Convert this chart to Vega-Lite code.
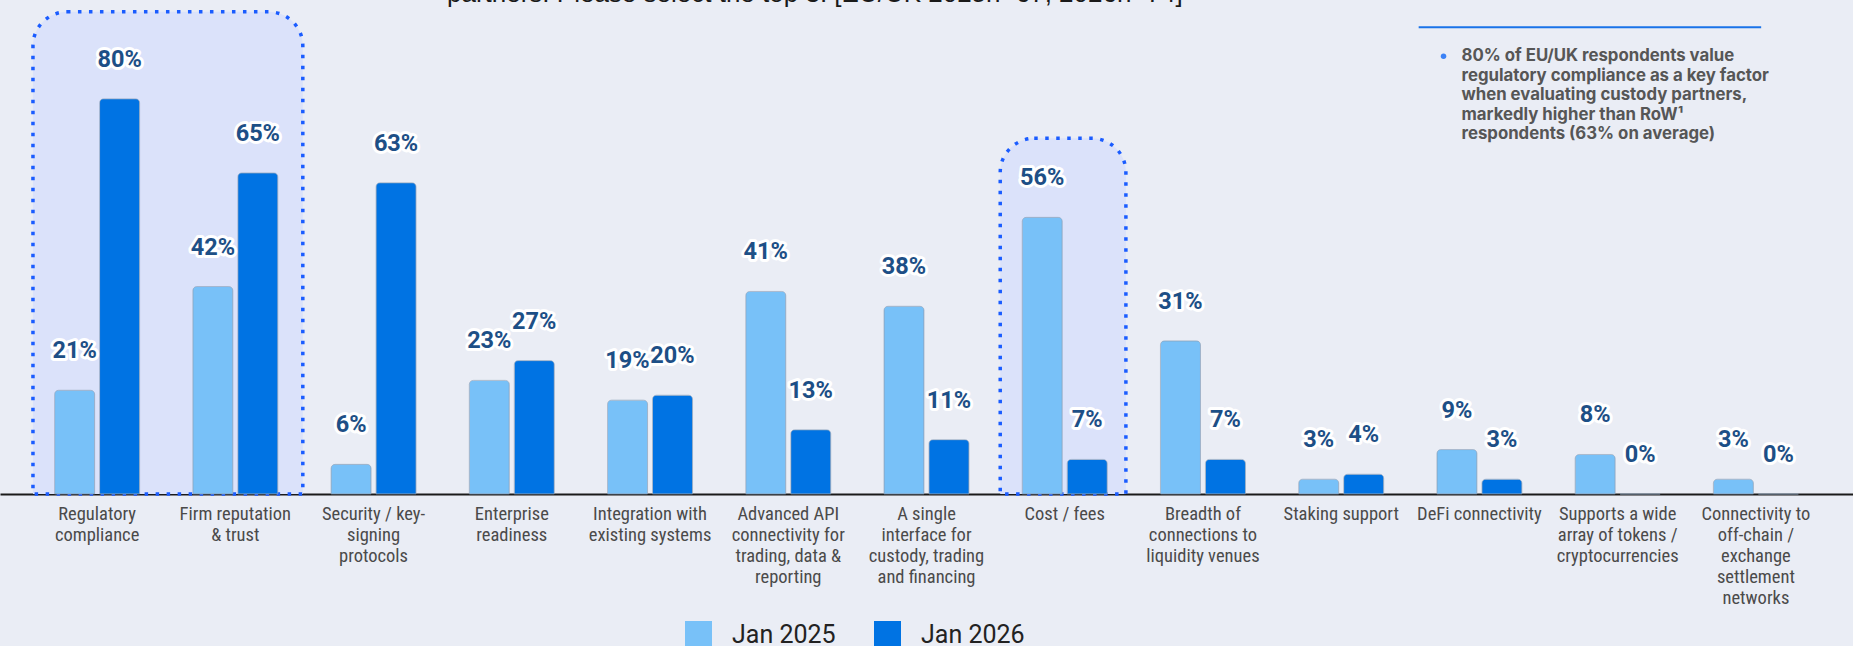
{
  "$schema": "https://vega.github.io/schema/vega-lite/v6.json",
  "width": 1853,
  "height": 494,
  "autosize": {"type": "none"},
  "padding": {"left": 0, "top": 0, "right": 0, "bottom": 152},
  "background": "#eaedf5",
  "config": {"view": {"stroke": null}},
  "datasets": {
    "bars": [
      {"category": "Regulatory|compliance", "series": "Jan 2025", "value": 0.21},
      {"category": "Regulatory|compliance", "series": "Jan 2026", "value": 0.80},
      {"category": "Firm reputation|& trust", "series": "Jan 2025", "value": 0.42},
      {"category": "Firm reputation|& trust", "series": "Jan 2026", "value": 0.65},
      {"category": "Security / key-|signing|protocols", "series": "Jan 2025", "value": 0.06},
      {"category": "Security / key-|signing|protocols", "series": "Jan 2026", "value": 0.63},
      {"category": "Enterprise|readiness", "series": "Jan 2025", "value": 0.23},
      {"category": "Enterprise|readiness", "series": "Jan 2026", "value": 0.27},
      {"category": "Integration with|existing systems", "series": "Jan 2025", "value": 0.19},
      {"category": "Integration with|existing systems", "series": "Jan 2026", "value": 0.20},
      {"category": "Advanced API|connectivity for|trading, data &|reporting", "series": "Jan 2025", "value": 0.41},
      {"category": "Advanced API|connectivity for|trading, data &|reporting", "series": "Jan 2026", "value": 0.13},
      {"category": "A single|interface for|custody, trading|and financing", "series": "Jan 2025", "value": 0.38},
      {"category": "A single|interface for|custody, trading|and financing", "series": "Jan 2026", "value": 0.11},
      {"category": "Cost / fees", "series": "Jan 2025", "value": 0.56},
      {"category": "Cost / fees", "series": "Jan 2026", "value": 0.07},
      {"category": "Breadth of|connections to|liquidity venues", "series": "Jan 2025", "value": 0.31},
      {"category": "Breadth of|connections to|liquidity venues", "series": "Jan 2026", "value": 0.07},
      {"category": "Staking support", "series": "Jan 2025", "value": 0.03},
      {"category": "Staking support", "series": "Jan 2026", "value": 0.04},
      {"category": "DeFi connectivity", "series": "Jan 2025", "value": 0.09},
      {"category": "DeFi connectivity", "series": "Jan 2026", "value": 0.03},
      {"category": "Supports a wide|array of tokens /|cryptocurrencies", "series": "Jan 2025", "value": 0.08},
      {"category": "Supports a wide|array of tokens /|cryptocurrencies", "series": "Jan 2026", "value": 0.0},
      {"category": "Connectivity to|off-chain /|exchange|settlement|networks", "series": "Jan 2025", "value": 0.03},
      {"category": "Connectivity to|off-chain /|exchange|settlement|networks", "series": "Jan 2026", "value": 0.0}
    ],
    "single": [{}]
  },
  "layer": [
    {
      "data": {"name": "single"},
      "layer": [
        {
          "mark": {"type": "rect", "fill": "#dbe2fa", "stroke": "#1a5cff", "strokeWidth": 3.5, "strokeDash": [3.5, 7.5], "cornerRadiusTopLeft": 34, "cornerRadiusTopRight": 34},
          "encoding": {
            "x": {"datum": 0.036, "type": "quantitative", "scale": {"domain": [-0.2027, 13.215], "nice": false, "zero": false}, "axis": null},
            "x2": {"datum": 1.99},
            "y": {"datum": 0.976, "type": "quantitative", "scale": {"domain": [0, 1], "nice": false}, "axis": null},
            "y2": {"datum": 0}
          }
        },
        {
          "mark": {"type": "rect", "fill": "#dbe2fa", "stroke": "#1a5cff", "strokeWidth": 3.5, "strokeDash": [3.5, 7.5], "cornerRadiusTopLeft": 34, "cornerRadiusTopRight": 34},
          "encoding": {
            "x": {"datum": 7.04, "type": "quantitative", "scale": {"domain": [-0.2027, 13.215], "nice": false, "zero": false}, "axis": null},
            "x2": {"datum": 7.95},
            "y": {"datum": 0.72, "type": "quantitative", "scale": {"domain": [0, 1], "nice": false}, "axis": null},
            "y2": {"datum": 0}
          }
        },
        {
          "mark": {"type": "text", "align": "left", "baseline": "alphabetic", "font": "Liberation Sans", "fontSize": 26, "color": "#1a1a1a"},
          "encoding": {
            "x": {"datum": 3.034, "type": "quantitative", "scale": {"domain": [-0.2027, 13.215], "nice": false, "zero": false}, "axis": null},
            "y": {"datum": 0.995, "type": "quantitative", "scale": {"domain": [0, 1], "nice": false}, "axis": null},
            "text": {"value": "partners. Please select the top 3. [EU/UK 2025n=67, 2026n=74]"}
          }
        },
        {
          "mark": {"type": "rule", "color": "#1a73e8", "strokeWidth": 2},
          "encoding": {
            "x": {"datum": 10.07, "type": "quantitative", "scale": {"domain": [-0.2027, 13.215], "nice": false, "zero": false}, "axis": null},
            "x2": {"datum": 12.55},
            "y": {"datum": 0.945, "type": "quantitative", "scale": {"domain": [0, 1], "nice": false}, "axis": null}
          }
        },
        {
          "mark": {"type": "point", "shape": "circle", "filled": true, "color": "#3b82f6", "size": 30, "opacity": 1},
          "encoding": {
            "x": {"datum": 10.25, "type": "quantitative", "scale": {"domain": [-0.2027, 13.215], "nice": false, "zero": false}, "axis": null},
            "y": {"datum": 0.886, "type": "quantitative", "scale": {"domain": [0, 1], "nice": false}, "axis": null}
          }
        },
        {
          "mark": {"type": "text", "align": "left", "baseline": "top", "font": "Inter", "fontWeight": 700, "fontSize": 16.8, "lineHeight": 19.5, "color": "#565656"},
          "encoding": {
            "x": {"datum": 10.38, "type": "quantitative", "scale": {"domain": [-0.2027, 13.215], "nice": false, "zero": false}, "axis": null},
            "y": {"datum": 0.902, "type": "quantitative", "scale": {"domain": [0, 1], "nice": false}, "axis": null},
            "text": {"value": ["80% of EU/UK respondents value", "regulatory compliance as a key factor", "when evaluating custody partners,", "markedly higher than RoW¹", "respondents (63% on average)"]}
          }
        }
      ]
    },
    {
      "data": {"name": "bars"},
      "encoding": {
        "x": {
          "field": "category", "type": "nominal", "sort": null,
          "scale": {"paddingInner": 0.385, "paddingOuter": 0.395},
          "axis": {
            "title": null, "labelAngle": 0, "labelExpr": "split(datum.label, '|')",
            "ticks": false, "domain": true, "domainColor": "#1a1a1a", "domainWidth": 2,
            "labelFont": "Roboto Condensed, Liberation Sans Narrow, DejaVu Sans Condensed, Roboto",
            "labelFontSize": 18.5, "labelLineHeight": 21, "labelPadding": 10, "labelColor": "#4a4a4a",
            "labelLimit": 0, "labelOverlap": false, "labelBound": false, "labelBaseline": "top"
          }
        },
        "xOffset": {"field": "series", "type": "nominal", "scale": {"paddingInner": 0.11, "paddingOuter": 0}},
        "y": {"field": "value", "type": "quantitative", "scale": {"domain": [0, 1], "nice": false}, "axis": null}
      },
      "layer": [
        {
          "mark": {"type": "bar", "cornerRadiusTopLeft": 4, "cornerRadiusTopRight": 4, "stroke": "#8fa3bb", "strokeWidth": 0.6},
          "encoding": {
            "color": {
              "field": "series", "type": "nominal",
              "scale": {"domain": ["Jan 2025", "Jan 2026"], "range": ["#78c1f8", "#0073e3"]},
              "legend": {
                "title": null, "orient": "none", "legendX": 685, "legendY": 621, "direction": "horizontal",
                "symbolType": "square", "symbolSize": 729, "symbolStrokeWidth": 0,
                "labelFont": "Roboto", "labelFontSize": 25, "labelColor": "#222222",
                "labelOffset": 20, "columnPadding": 38
              }
            }
          }
        },
        {
          "mark": {"type": "text", "font": "Roboto", "fontWeight": 700, "fontSize": 23.5, "baseline": "middle", "dy": -39, "fill": "white", "stroke": "white", "strokeWidth": 6, "strokeJoin": "round"},
          "encoding": {"text": {"field": "value", "type": "quantitative", "format": ".0%"}}
        },
        {
          "mark": {"type": "text", "font": "Roboto", "fontWeight": 700, "fontSize": 23.5, "baseline": "middle", "dy": -39, "fill": "#1d4f86"},
          "encoding": {"text": {"field": "value", "type": "quantitative", "format": ".0%"}}
        }
      ]
    }
  ],
  "resolve": {"scale": {"x": "independent"}}
}
